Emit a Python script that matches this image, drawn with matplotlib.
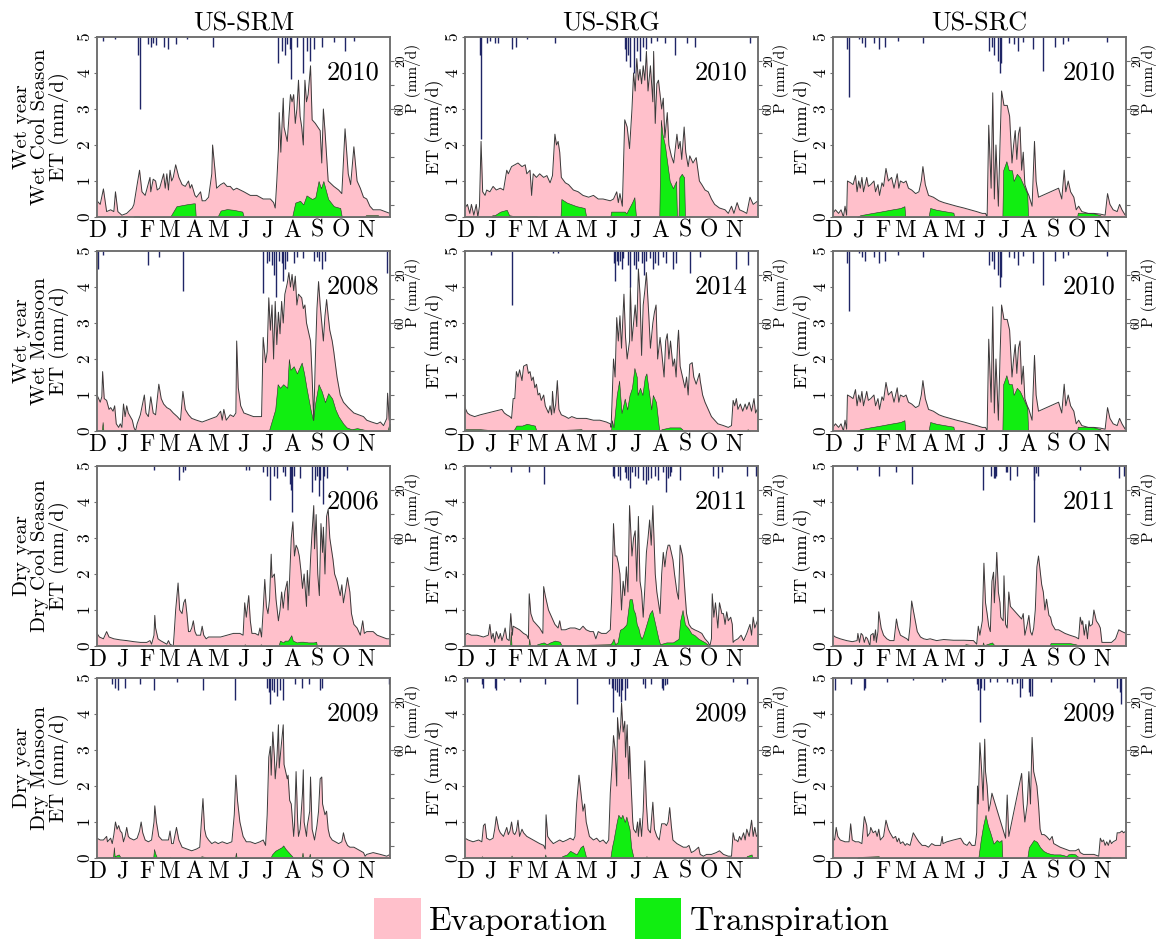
import numpy as np
import matplotlib
matplotlib.use('Agg')
import matplotlib.pyplot as plt
from matplotlib.patches import Patch

plt.rcParams['font.family'] = ['cmr10', 'DejaVu Serif']
plt.rcParams['mathtext.fontset'] = 'cm'
plt.rcParams['axes.formatter.use_mathtext'] = True

# x = days since 1 Dec, values in mm/d
months = ['D', 'J', 'F', 'M', 'A', 'M', 'J', 'J', 'A', 'S', 'O', 'N']
month_start = [0, 31, 62, 90, 121, 151, 182, 212, 243, 274, 304, 335]
sites = ['US-SRM', 'US-SRG', 'US-SRC']
row_labels = ['Wet year\nWet Cool Season', 'Wet year\nWet Monsoon',
              'Dry year\nDry Cool Season', 'Dry year\nDry Monsoon']
years = [['2010', '2010', '2010'], ['2008', '2014', '2010'],
         ['2006', '2011', '2011'], ['2009', '2009', '2009']]

# ---- US-SRM 2010
srm10_et = [(0,.45),(4,.35),(8,.78),(12,.15),(17,.2),(21,.15),(23,.7),(26,.15),(31,.05),(37,.1),(44,.25),(46,.35),(50,.9),(53,1.3),(56,.7),(60,.6),(66,1.1),(67,.7),(70,1.05),(73,1.0),(75,.75),(78,.8),(83,1.2),(85,.8),(87,1.2),(89,.75),(91,1.3),(93,1.0),(95,1.1),(98,1.45),(102,1.1),(106,.9),(110,.85),(114,1.0),(116,.8),(118,.9),(122,.6),(124,.55),(129,.7),(131,.45),(135,.45),(139,.55),(143,1.2),(144,2.0),(147,1.3),(149,.8),(154,.9),(158,.95),(162,.85),(166,.85),(170,.75),(174,.8),(183,.7),(191,.6),(199,.6),(207,.5),(216,.5),(220,.4),(222,.25),(224,1.0),(226,1.9),(227,2.9),(229,1.8),(232,3.3),(233,2.5),(235,2.3),(237,2.1),(241,3.4),(243,3.2),(245,3.4),(247,2.6),(249,3.0),(251,3.8),(253,2.8),(255,2.5),(257,2.0),(259,3.8),(261,3.2),(263,3.4),(266,4.2),(268,2.7),(272,2.6),(278,2.4),(280,1.5),(282,3.0),(284,2.4),(288,1.0),(295,.85),(301,.75),(305,.65),(309,2.45),(313,1.2),(316,.9),(320,1.95),(324,1.0),(328,.8),(332,.55),(336,.5),(340,.3),(344,.2),(353,.2),(359,.15),(365,.1)]
srm10_tr = [(45,0),(47,.03),(52,.03),(53,0),(91,0),(99,.3),(111,.35),(120,.38),(122,.38),(123,0),(150,0),(154,.18),(162,.22),(170,.2),(181,.15),(183,0),(243,0),(247,.4),(253,.45),(257,.35),(261,.6),(268,.5),(272,.55),(276,1.0),(279,.8),(282,1.0),(288,.5),(295,.3),(303,.25),(305,0),(333,0),(335,.05),(350,.05),(352,0)]
srm10_p = [(8,3),(23,2),(51,15),(53,60),(64,6),(67,8),(70,5),(74,7),(83,8),(89,10),(98,6),(112,2),(144,8),(226,22),(230,12),(234,15),(237,6),(241,10),(242,35),(249,8),(257,30),(261,12),(265,20),(270,10),(280,8),(295,4),(309,12),(320,3)]

# ---- US-SRG 2010
srg10_et = [(0,.25),(3,.35),(6,.1),(8,.35),(11,.05),(14,.35),(16,0),(18,.3),(20,2.1),(22,.7),(25,.6),(27,.75),(31,.7),(35,.85),(39,.75),(44,.8),(48,.75),(52,1.3),(54,1.2),(58,1.4),(62,1.45),(66,1.5),(71,1.4),(75,1.45),(77,1.2),(81,1.3),(83,.6),(85,1.2),(89,1.1),(93,1.2),(98,1.1),(102,1.15),(106,.95),(109,1.15),(112,2.3),(114,2.0),(116,2.1),(118,1.8),(120,1.1),(125,.95),(129,.9),(135,.75),(141,.7),(147,.6),(154,.55),(160,.6),(166,.5),(172,.5),(181,.45),(185,.5),(189,.7),(191,.4),(193,.65),(196,.3),(199,2.7),(202,2.5),(205,1.9),(208,3.0),(210,4.0),(212,3.5),(214,4.4),(216,3.8),(218,4.1),(220,3.7),(222,4.2),(224,3.8),(226,4.6),(228,3.5),(231,4.2),(234,3.2),(235,4.6),(237,2.6),(239,3.7),(241,3.8),(243,3.4),(245,3.0),(247,3.3),(249,2.2),(252,2.9),(254,2.0),(257,1.7),(260,1.5),(264,2.3),(266,1.9),(268,2.1),(270,1.6),(273,2.5),(275,1.8),(278,1.4),(280,1.7),(284,1.5),(288,1.65),(292,1.0),(295,.9),(299,.75),(303,.7),(307,.5),(311,.35),(317,.25),(324,.2),(328,.1),(332,.3),(335,.1),(339,.4),(342,.2),(347,.15),(351,.1),(355,.55),(359,.35),(365,.45)]
srg10_tr = [(33,0),(34,.05),(37,.05),(44,.15),(52,.2),(55,.05),(60,.03),(89,.03),(90,0),(119,0),(120,.5),(127,.4),(139,.3),(149,.25),(151,0),(181,0),(182,.15),(199,.15),(201,.1),(208,.4),(211,.55),(213,0),(242,0),(244,2.7),(246,2.3),(249,2.0),(252,1.5),(255,1.0),(259,.8),(263,1.0),(264,0),(266,0),(267,1.1),(270,1.2),(273,1.1),(274,0)]
srg10_p = [(19,15),(20,85),(27,5),(31,3),(37,5),(41,5),(58,10),(64,8),(77,2),(112,5),(199,10),(201,20),(203,15),(205,25),(210,30),(214,12),(218,20),(222,8),(226,10),(232,5),(239,3),(249,5),(261,15),(276,5),(286,8),(355,5)]

# ---- US-SRC 2010
src10_et = [(0,.1),(3,.2),(7,.1),(10,.2),(13,0),(15,.3),(17,.05),(18,1.0),(22,.95),(25,.9),(28,1.15),(30,.7),(32,1.0),(34,.8),(36,1.1),(38,.7),(42,1.1),(44,.85),(47,.9),(51,1.0),(53,.7),(56,.9),(58,.6),(61,.95),(63,.85),(66,1.35),(69,1.0),(73,1.1),(76,.8),(80,1.2),(82,.8),(84,1.0),(88,.95),(91,1.0),(94,.8),(98,.75),(103,.65),(107,.7),(110,1.0),(112,1.4),(115,.9),(119,.6),(125,.55),(132,.45),(138,.4),(146,.35),(154,.3),(163,.25),(171,.2),(179,.15),(186,.1),(190,.1),(192,0),(194,2.55),(197,.8),(199,3.45),(201,.5),(203,2.0),(206,.3),(208,2.0),(210,3.5),(213,3.1),(217,3.1),(220,2.8),(223,1.5),(225,2.0),(227,2.4),(229,1.6),(231,2.3),(233,2.5),(235,1.3),(237,1.8),(239,.9),(242,.7),(244,.6),(248,.3),(251,2.1),(253,1.0),(256,.55),(281,.8),(285,.5),(288,1.3),(290,.7),(293,1.0),(296,.7),(300,.55),(303,.2),(306,.3),(310,.15),(318,.1),(325,.1),(333,.08),(339,.05),(342,.65),(345,.35),(349,.2),(354,.15),(357,.35),(360,.2),(364,.05),(365,.1)]
src10_tr = [(30,0),(34,.05),(46,.1),(59,.15),(71,.2),(84,.25),(89,.3),(90,0),(119,0),(121,.25),(129,.2),(142,.15),(150,.12),(151,0),(211,0),(212,1.3),(216,1.55),(219,1.3),(223,1.3),(225,1.0),(229,1.2),(233,1.1),(237,.9),(242,.65),(243,0),(304,0),(305,.12),(325,.1),(333,.05),(335,0)]
src10_p = [(18,10),(20,50),(32,2),(36,5),(40,8),(51,5),(57,10),(65,8),(81,3),(112,5),(194,12),(198,8),(200,15),(206,20),(208,30),(209,22),(219,5),(226,6),(231,12),(237,4),(249,10),(262,28),(277,8),(286,6),(293,3),(341,4)]

# ---- US-SRM 2008
srm08_et = [(0,1.0),(4,.8),(6,.95),(7,1.65),(9,.9),(12,.85),(15,.6),(17,.65),(20,.55),(22,.7),(24,.2),(27,.1),(29,.2),(31,.1),(33,.75),(35,.4),(37,.7),(39,.5),(44,.3),(46,.1),(48,0),(50,.2),(54,.45),(59,1.0),(61,.5),(64,.4),(67,.95),(70,.5),(73,.45),(77,1.3),(80,.9),(83,.75),(87,.65),(91,.6),(95,.5),(100,.4),(104,.3),(107,1.1),(110,.6),(114,.45),(118,.35),(124,.3),(131,.25),(137,.3),(143,.35),(149,.4),(154,.55),(156,.3),(158,.6),(161,.3),(166,.45),(170,.4),(173,.5),(174,2.5),(176,1.2),(179,.7),(183,.5),(189,.45),(195,.4),(201,.4),(205,.4),(207,2.6),(210,1.9),(212,2.2),(214,3.7),(216,2.8),(218,3.5),(220,2.0),(222,3.6),(224,2.4),(226,3.3),(228,2.7),(230,3.6),(232,3.0),(234,3.8),(237,4.1),(239,4.4),(241,4.0),(243,4.35),(245,3.9),(247,4.3),(249,3.5),(251,3.8),(255,3.7),(257,3.4),(259,3.5),(261,3.0),(266,2.5),(268,1.5),(270,.3),(272,2.0),(274,3.4),(276,4.15),(278,3.5),(280,3.0),(282,2.5),(284,3.2),(286,3.65),(288,3.2),(290,2.8),(293,2.5),(295,2.2),(299,1.5),(303,1.0),(307,.8),(313,.65),(320,.5),(326,.45),(332,.4),(336,.3),(342,.25),(349,.2),(353,.25),(357,.15),(361,.35),(362,1.05),(364,.3),(365,.8)]
srm08_tr = [(6,0),(7,.25),(8,0),(78,0),(79,.03),(80,0),(214,0),(218,.3),(222,.6),(225,1.3),(228,1.2),(232,1.3),(237,1.2),(239,2.0),(241,1.7),(245,1.8),(249,1.6),(253,1.8),(255,1.9),(258,1.6),(261,1.2),(266,.6),(269,.3),(272,.8),(276,1.3),(280,1.1),(284,.8),(288,1.05),(293,.9),(297,.6),(301,.4),(307,.2),(311,.1),(317,.05),(324,.08),(334,.03),(336,0),(362,0),(364,.2),(365,.2)]
srm08_p = [(1,15),(8,3),(64,12),(77,5),(107,33),(207,35),(212,10),(214,8),(218,12),(221,20),(223,38),(227,8),(230,10),(232,25),(234,15),(237,8),(245,10),(249,5),(257,6),(270,8),(274,5),(276,8),(280,15),(284,8),(361,18)]

# ---- US-SRG 2014
srg14_et = [(0,.65),(3,.5),(6,.45),(12,.4),(19,.45),(46,.6),(49,.5),(52,.45),(56,.4),(58,.35),(60,.9),(62,.9),(64,1.65),(66,1.5),(68,1.7),(71,1.4),(73,1.8),(77,1.85),(79,1.6),(81,1.65),(83,1.4),(85,1.5),(87,1.2),(89,1.3),(91,1.0),(93,1.05),(95,.85),(98,1.0),(100,.7),(102,.6),(104,.5),(106,.7),(108,.45),(109,1.1),(111,.5),(113,.75),(115,1.4),(117,.6),(120,.45),(125,.4),(129,.35),(133,.4),(139,.35),(145,.35),(151,.35),(160,.3),(168,.3),(176,.25),(181,.2),(182,.1),(183,.7),(185,2.0),(187,1.5),(189,3.15),(191,2.5),(193,3.2),(195,2.3),(198,3.8),(200,2.6),(202,2.0),(205,2.5),(206,4.0),(208,2.5),(210,3.0),(212,3.5),(214,2.9),(216,4.5),(218,3.8),(220,2.1),(222,3.5),(224,3.9),(226,4.4),(229,3.2),(231,2.3),(234,3.0),(236,3.3),(238,3.5),(240,2.0),(243,2.6),(245,2.2),(248,1.5),(250,2.5),(252,2.7),(254,2.0),(256,2.5),(259,1.8),(261,2.0),(263,1.5),(265,2.5),(266,2.8),(268,1.8),(271,1.5),(274,1.2),(276,1.5),(278,1.0),(280,1.85),(283,1.9),(285,1.5),(288,1.3),(292,1.6),(293,1.4),(296,1.0),(299,.8),(303,.6),(307,.4),(311,.3),(315,.2),(322,.15),(328,.1),(332,.15),(334,.85),(336,.7),(338,.9),(340,.6),(343,.75),(346,.55),(349,.75),(351,.6),(354,.8),(357,.55),(360,.9),(362,.5),(365,.65)]
srg14_tr = [(0,.05),(19,.05),(30,.03),(31,0),(60,0),(64,.15),(71,.15),(77,.2),(87,.15),(89,0),(120,0),(121,.03),(145,.05),(147,0),(182,0),(183,.3),(185,.1),(189,1.0),(192,1.4),(195,.5),(197,.7),(199,.9),(202,.6),(205,1.0),(208,1.2),(211,1.75),(214,1.5),(215,1.0),(218,1.2),(221,1.0),(224,1.5),(226,1.6),(229,1.1),(232,.6),(234,1.0),(236,.9),(238,.8),(242,0),(245,.05),(255,.1),(268,.1),(273,0),(351,0),(352,.05),(355,0)]
srg14_p = [(33,3),(59,45),(110,2),(116,2),(185,10),(187,25),(189,8),(191,12),(193,8),(195,15),(197,6),(203,12),(206,30),(210,12),(213,15),(215,8),(220,10),(223,20),(226,8),(230,6),(234,15),(237,10),(241,12),(247,5),(250,10),(259,15),(263,10),(280,18),(293,5),(338,15),(353,12)]

# ---- US-SRM 2006
srm06_et = [(0,.35),(3,.25),(8,.2),(12,.4),(15,.25),(21,.2),(29,.17),(37,.15),(46,.12),(54,.1),(62,.1),(66,.15),(68,.05),(71,.3),(72,.85),(73,.5),(76,.2),(79,.15),(83,.1),(87,.05),(89,.15),(91,.05),(95,0),(96,.3),(98,1.0),(101,1.75),(103,1.0),(106,.9),(108,1.2),(110,1.3),(112,.9),(114,.4),(116,.4),(118,.5),(120,.7),(122,.4),(124,.3),(129,.3),(131,.55),(133,.3),(136,.2),(139,.25),(145,.25),(154,.25),(162,.3),(170,.35),(178,.35),(182,.3),(184,1.2),(186,.8),(189,1.4),(191,.7),(193,.35),(197,.35),(201,.3),(203,.5),(205,.25),(207,1.0),(209,1.85),(211,1.1),(213,.9),(215,1.3),(217,2.55),(218,1.9),(221,2.0),(223,1.3),(226,.7),(228,1.0),(230,1.5),(232,1.05),(234,1.5),(237,1.8),(238,1.0),(240,1.9),(242,3.0),(244,3.45),(246,2.5),(248,2.8),(250,2.7),(252,2.5),(254,2.1),(256,1.6),(258,2.0),(261,1.1),(262,2.1),(264,1.4),(266,2.4),(268,3.2),(270,3.9),(271,2.7),(273,3.65),(275,2.0),(277,1.4),(279,3.4),(281,2.6),(282,3.3),(284,2.0),(286,3.6),(288,3.8),(290,3.0),(292,2.7),(294,2.4),(296,2.0),(299,1.8),(301,1.6),(303,1.4),(305,1.7),(307,1.2),(310,1.6),(312,1.9),(315,1.5),(317,.9),(320,.6),(324,.5),(326,.4),(328,.3),(331,.7),(333,.35),(336,.4),(344,.4),(349,.3),(355,.25),(361,.2),(365,.2)]
srm06_tr = [(183,0),(184,.05),(186,0),(203,0),(204,.05),(206,0),(226,0),(228,.15),(232,.1),(234,.15),(238,.15),(242,.3),(244,.15),(249,.1),(253,.12),(257,.12),(263,.1),(270,.1),(273,.12),(274,0)]
srm06_p = [(71,3),(102,12),(107,5),(110,3),(185,3),(189,3),(207,5),(212,8),(216,28),(220,8),(224,10),(232,5),(234,8),(240,15),(242,20),(243,38),(245,8),(253,10),(268,22),(272,12),(274,8),(276,25),(278,12),(281,32),(283,8),(286,10),(311,3)]

# ---- US-SRG 2011
srg11_et = [(0,.3),(3,.35),(8,.3),(15,.3),(23,.25),(29,.3),(31,.6),(33,.2),(35,.35),(37,.1),(39,.4),(42,.2),(44,.35),(46,.15),(48,.3),(50,.5),(52,.2),(55,.15),(57,.9),(59,.3),(60,.55),(64,.5),(68,.45),(73,.35),(77,.3),(79,.2),(80,1.45),(82,.9),(85,.7),(89,.6),(93,.5),(97,.35),(98,1.65),(100,1.4),(104,1.0),(108,.8),(112,.6),(116,.5),(118,.7),(120,.45),(125,.45),(131,.5),(137,.5),(143,.45),(147,.55),(151,.45),(156,.4),(160,.4),(163,.2),(166,.4),(170,.35),(176,.35),(181,.45),(183,1.5),(185,3.4),(187,2.5),(189,2.5),(191,2.3),(193,2.0),(195,1.0),(197,1.8),(199,1.4),(201,2.2),(203,1.5),(205,3.9),(208,2.5),(210,3.0),(212,3.2),(214,1.8),(216,3.6),(218,1.8),(220,1.5),(222,.8),(224,1.6),(226,2.6),(228,3.0),(230,3.5),(232,2.8),(234,3.9),(237,2.0),(239,1.5),(241,1.2),(243,.9),(245,2.0),(247,2.6),(249,2.2),(251,2.6),(253,2.8),(255,2.8),(259,2.4),(261,2.0),(264,1.5),(266,1.3),(268,2.8),(271,2.5),(274,1.5),(276,.9),(279,.6),(282,.5),(286,.45),(291,.4),(295,.35),(299,.2),(303,.1),(305,0),(307,.2),(308,1.45),(310,.8),(312,1.2),(315,.5),(317,1.2),(320,.9),(322,.9),(324,.6),(326,.95),(328,.7),(331,.8),(333,.6),(334,.1),(336,.15),(340,.2),(344,.3),(347,.15),(351,.35),(355,.6),(357,.3),(359,.8),(361,.5),(365,.75)]
srg11_tr = [(56,0),(57,.4),(58,0),(79,0),(80,.2),(81,0),(89,0),(90,.05),(98,.1),(102,.05),(106,.1),(112,.15),(118,.12),(120,.03),(143,.03),(181,.05),(183,.1),(185,.2),(187,.05),(190,.1),(193,.45),(197,.5),(201,.6),(205,1.3),(208,1.3),(210,1.0),(212,.9),(214,.6),(216,.5),(218,.3),(220,.2),(222,.3),(226,.6),(230,.9),(233,1.0),(235,.8),(237,.6),(239,.4),(241,.2),(243,.05),(251,.1),(259,.1),(266,.2),(268,.7),(271,1.0),(274,.6),(278,.5),(282,.35),(286,.3),(291,.2),(295,.15),(299,.1),(303,.03),(305,0)]
srg11_p = [(31,2),(57,5),(80,5),(98,15),(184,8),(186,10),(190,8),(193,12),(199,5),(201,10),(203,12),(205,18),(208,5),(212,8),(215,10),(222,12),(226,15),(228,12),(232,10),(237,8),(241,12),(247,5),(250,22),(253,10),(255,8),(257,5),(268,12),(309,8),(315,10),(320,5),(351,8),(363,8)]

# ---- US-SRC 2011
src11_et = [(0,.3),(3,.25),(9,.2),(17,.15),(24,.12),(30,.15),(31,.35),(33,.1),(35,.35),(37,.3),(39,.1),(41,.25),(43,.2),(46,0),(47,.3),(50,.35),(51,.15),(53,.45),(54,.1),(56,.4),(57,.95),(60,.5),(63,.3),(67,.2),(71,.15),(76,.15),(79,.75),(81,.5),(84,.3),(88,.25),(92,.2),(94,.15),(96,.55),(98,1.25),(100,1.0),(105,.4),(109,.25),(113,.2),(117,.18),(121,.2),(129,.15),(138,.18),(150,.16),(163,.16),(175,.15),(179,.05),(181,.55),(183,.3),(186,.7),(188,2.3),(190,1.2),(192,.9),(194,.55),(196,.4),(198,1.8),(200,2.05),(201,1.2),(203,2.0),(204,2.6),(206,1.5),(208,1.2),(209,.8),(212,.7),(213,1.95),(215,.6),(217,.5),(219,1.5),(221,1.1),(225,1.0),(229,.9),(233,.8),(235,.75),(237,.9),(239,.3),(242,.6),(244,.85),(246,.4),(248,.3),(250,.5),(252,1.0),(254,2.2),(256,2.5),(258,2.1),(260,1.7),(262,1.5),(264,1.0),(266,1.3),(269,.85),(271,.8),(273,.6),(277,.45),(281,.45),(285,.4),(289,.35),(295,.3),(302,.25),(306,.2),(308,.8),(310,.6),(311,.7),(313,.3),(315,.6),(317,.2),(319,.7),(320,.55),(323,.6),(325,1.0),(328,.7),(331,.6),(333,.5),(335,.1),(341,.1),(347,.1),(352,.2),(356,.45),(360,.4),(365,.35)]
src11_tr = [(163,0),(165,.05),(175,.02),(186,.02),(187,.1),(188,.02),(198,.1),(200,.05),(202,0),(270,0),(271,.08),(285,.08),(295,.08),(302,.05),(306,.02),(333,.02),(335,0)]
src11_p = [(30,3),(57,8),(79,5),(98,15),(187,20),(197,8),(200,10),(202,10),(203,8),(215,5),(217,5),(221,12),(229,8),(250,12),(251,47),(253,6),(255,8),(308,3),(356,10),(362,8)]

# ---- US-SRM 2009
srm09_et = [(0,.55),(4,.5),(8,.5),(12,.6),(13,.45),(17,.55),(19,.4),(21,.65),(23,1.0),(25,.8),(27,.9),(29,.75),(31,.7),(33,.45),(35,.6),(37,.85),(39,.6),(41,.55),(46,.5),(50,.55),(53,.75),(55,1.0),(57,.7),(60,.5),(64,.45),(68,.5),(71,1.0),(72,1.45),(74,1.0),(77,.6),(81,.5),(85,.5),(89,.5),(91,.75),(93,.4),(95,.4),(99,.85),(102,.5),(106,.3),(112,.25),(118,.2),(124,.25),(128,.3),(130,1.0),(132,1.65),(134,.8),(136,.6),(139,.5),(143,.4),(147,.45),(151,.4),(156,.45),(162,.4),(168,.45),(171,1.2),(173,2.3),(175,1.6),(178,1.0),(182,.6),(186,.45),(191,.45),(197,.4),(203,.45),(207,.5),(210,.35),(212,1.2),(214,2.8),(216,3.1),(217,2.3),(219,3.5),(221,2.8),(222,2.2),(224,2.7),(226,3.7),(227,2.5),(229,3.0),(232,3.7),(233,2.6),(235,2.4),(237,2.2),(238,2.3),(240,1.6),(242,1.5),(243,1.2),(245,.6),(246,.9),(248,2.4),(250,1.0),(251,.6),(253,.8),(256,1.8),(257,2.45),(258,1.0),(261,.6),(262,.9),(265,1.3),(266,2.25),(268,.8),(271,.5),(274,.9),(276,1.3),(278,2.2),(280,2.25),(281,1.5),(284,1.2),(286,1.3),(288,.8),(290,.6),(293,.5),(297,.45),(301,.4),(305,.45),(307,.7),(309,.5),(312,.35),(315,.3),(320,.3),(324,.25),(328,.2),(332,.15),(334,.05),(336,.1),(344,.15),(353,.1),(361,.05),(365,.1)]
srm09_tr = [(20,0),(21,.3),(22,.05),(27,.1),(29,.03),(30,0),(70,0),(71,.25),(73,.1),(75,0),(90,0),(91,.03),(92,0),(129,0),(130,.05),(134,.03),(135,0),(172,0),(173,.15),(174,0),(216,0),(218,.1),(222,.2),(226,.25),(230,.3),(232,.35),(235,.25),(239,.15),(243,.05),(245,0),(255,0),(256,.15),(257,0),(264,0),(265,.12),(266,0)]
srm09_p = [(19,5),(23,8),(26,10),(35,8),(53,5),(71,10),(100,3),(132,10),(172,18),(212,8),(214,12),(216,22),(218,10),(221,12),(224,15),(228,10),(232,18),(247,5),(255,8),(264,5),(278,10),(280,8),(364,5)]

# ---- US-SRG 2009
srg09_et = [(0,.55),(4,.5),(10,.45),(17,.5),(21,.45),(23,.9),(25,.95),(27,.55),(31,.5),(35,.55),(37,.8),(39,1.15),(42,.8),(44,.7),(48,.6),(52,.85),(54,.65),(56,.75),(58,1.0),(60,.7),(62,.65),(64,.75),(66,1.05),(68,.6),(71,.8),(73,.7),(77,.6),(81,.55),(85,.5),(89,.45),(93,.4),(98,.35),(100,.25),(101,1.2),(103,.6),(106,.5),(110,.4),(114,.45),(118,.5),(122,.45),(127,.5),(131,.55),(135,.5),(137,.6),(139,1.5),(142,2.3),(144,1.9),(147,1.3),(149,1.5),(151,1.0),(155,.6),(160,.5),(164,.55),(168,.45),(172,.5),(176,.4),(179,.5),(181,1.8),(183,2.5),(185,3.4),(187,3.0),(189,2.0),(190,3.9),(192,3.3),(194,3.7),(195,4.3),(197,3.5),(199,3.8),(200,2.8),(202,3.7),(204,2.2),(205,3.1),(207,2.0),(209,1.0),(210,.8),(213,.7),(215,1.0),(216,.6),(218,1.1),(220,.6),(222,1.3),(224,2.7),(226,1.5),(228,.8),(231,.7),(234,1.55),(236,.8),(239,.6),(242,.5),(245,.95),(249,.95),(251,.9),(253,1.0),(255,1.4),(257,.9),(259,.5),(264,.4),(268,.35),(272,.3),(276,.3),(279,.35),(282,.15),(286,.2),(291,.3),(293,.1),(297,.05),(301,.1),(307,.1),(313,.15),(317,.2),(322,.1),(328,.05),(332,.05),(334,.7),(336,.5),(338,.5),(340,.45),(342,.6),(344,.5),(347,.7),(349,.5),(351,.8),(354,.6),(357,1.05),(359,.6),(361,.85),(363,.6),(365,.65)]
srg09_tr = [(20,0),(21,.05),(23,0),(57,0),(58,.07),(59,0),(99,0),(100,.1),(101,0),(120,0),(121,.05),(127,.1),(131,.2),(135,.15),(139,.1),(144,.3),(147,.35),(150,.1),(151,0),(181,0),(183,.3),(185,.5),(189,1.0),(191,1.2),(194,1.1),(196,1.2),(199,1.0),(201,1.15),(205,.8),(207,.3),(210,0),(225,0),(226,.05),(228,0),(350,0),(351,.05),(357,.1),(358,0)]
srg09_p = [(3,3),(21,5),(22,8),(37,8),(39,10),(49,2),(68,3),(100,5),(140,22),(180,5),(183,8),(184,28),(187,10),(189,12),(192,15),(194,20),(196,10),(199,18),(202,8),(222,5),(224,8),(232,5),(245,8),(247,10),(249,6),(252,5),(334,3),(351,5)]

# ---- US-SRC 2009
src09_et = [(0,.55),(2,.5),(4,.85),(6,.6),(9,.5),(15,.45),(20,.45),(22,.95),(24,.5),(28,.45),(32,.45),(36,.4),(39,1.15),(42,.9),(43,.6),(46,.7),(47,.85),(50,.7),(53,.75),(55,.6),(57,.8),(59,.5),(63,.6),(66,1.05),(69,.8),(71,.7),(75,.55),(78,.6),(80,.45),(82,.55),(84,.4),(87,.45),(90,.35),(92,.4),(96,.35),(100,.7),(104,.55),(107,.45),(111,.35),(115,.35),(119,.3),(123,.4),(127,.35),(134,.35),(136,.6),(137,.4),(142,.45),(150,.5),(159,.55),(163,.4),(167,.35),(170,.45),(173,.35),(177,.35),(179,.7),(180,2.0),(181,1.5),(183,3.2),(185,2.5),(187,1.6),(189,3.3),(190,2.4),(192,2.0),(194,1.3),(196,1.5),(198,1.8),(215,.55),(217,1.75),(219,.6),(235,2.35),(237,1.5),(239,1.0),(242,1.5),(244,2.4),(246,1.5),(248,3.35),(250,2.4),(252,2.2),(254,2.0),(256,1.5),(258,.8),(260,.65),(263,.65),(266,.6),(270,.5),(273,.6),(275,.4),(279,.35),(283,.3),(289,.25),(295,.2),(302,.2),(306,.25),(308,.15),(312,.1),(318,.1),(325,.1),(331,.05),(333,.55),(335,.45),(337,.5),(339,.35),(341,.45),(343,.35),(345,.5),(347,.4),(349,.45),(353,.5),(354,.7),(357,.7),(360,.75),(362,.7),(365,.75)]
src09_tr = [(30,0),(32,.03),(57,.05),(58,0),(181,0),(184,.5),(187,.9),(190,1.2),(193,.9),(196,.7),(198,.55),(200,.4),(204,.5),(207,.45),(210,.5),(211,0),(242,0),(244,.3),(247,.4),(250,.5),(254,.45),(258,.3),(262,.2),(266,.15),(270,.12),(275,.1),(283,.1),(287,.08),(291,.05),(293,.1),(297,.12),(302,.1),(304,.05),(308,.02),(333,.02),(345,.03),(346,0)]
src09_p = [(3,10),(22,5),(38,10),(40,8),(67,3),(100,2),(136,3),(140,2),(179,5),(181,10),(183,37),(184,8),(188,10),(196,3),(204,3),(217,3),(223,5),(229,4),(233,16),(235,8),(244,12),(246,15),(248,15),(271,3),(325,3),(354,8),(357,12),(359,22)]

grid = [[(srm10_et, srm10_tr, srm10_p), (srg10_et, srg10_tr, srg10_p), (src10_et, src10_tr, src10_p)],
        [(srm08_et, srm08_tr, srm08_p), (srg14_et, srg14_tr, srg14_p), (src10_et, src10_tr, src10_p)],
        [(srm06_et, srm06_tr, srm06_p), (srg11_et, srg11_tr, srg11_p), (src11_et, src11_tr, src11_p)],
        [(srm09_et, srm09_tr, srm09_p), (srg09_et, srg09_tr, srg09_p), (src09_et, src09_tr, src09_p)]]

EVAP = '#ffc0cb'
TRANS = '#11ee11'
RAIN = '#1f2566'
SPINE = '#6e6e6e'

W, H = 1168, 946
fig = plt.figure(figsize=(W / 100, H / 100), dpi=100)

lefts = [97, 465, 833]
tops = [37, 251, 466, 678]
aw, ah = 293, 180

for r in range(4):
    for c in range(3):
        et, tr, p = [np.array(a, dtype=float) for a in grid[r][c]]
        ax = fig.add_axes([lefts[c] / W, 1 - (tops[r] + ah) / H, aw / W, ah / H])
        ax.fill_between(et[:, 0], 0, et[:, 1], color=EVAP, lw=0)
        ax.plot(et[:, 0], et[:, 1], color='#3a3a3a', lw=0.7)
        ax.fill_between(tr[:, 0], 0, tr[:, 1], facecolor=TRANS, edgecolor='#2a2a2a', lw=0.4)
        ax.set_xlim(0, 365)
        ax.set_ylim(0, 5)
        ax.set_yticks([0, 1, 2, 3, 4, 5])
        ax.set_xticks(month_start)
        ax.set_xticklabels(months, fontsize=17)
        ax.tick_params(axis='x', length=0, pad=2)
        ax.tick_params(axis='y', labelrotation=90, labelsize=12.5, length=2, color=SPINE, pad=1)
        for lab in ax.get_yticklabels():
            lab.set_va('center')
        if c == 0:
            ax.set_ylabel(row_labels[r] + '\nET (mm/d)', fontsize=15, linespacing=1.0)
            ax.yaxis.set_label_coords(-0.095, 0.5)
        else:
            ax.set_ylabel('ET (mm/d)', fontsize=13)
            ax.yaxis.set_label_coords(-0.075, 0.5)
        if r == 0:
            ax.set_title(sites[c], fontsize=19, pad=5)

        ax2 = ax.twinx()
        ax2.vlines(p[:, 0], 0, p[:, 1], color=RAIN, lw=1.0)
        ax2.set_ylim(150, 0)
        ax2.set_yticks([20, 40, 60, 80, 100, 120, 140])
        ax2.set_yticklabels(['20', '', '60', '', '', '', ''])
        ax2.tick_params(axis='y', labelrotation=90, labelsize=9, length=3, color=SPINE, pad=0.5)
        for lab in ax2.get_yticklabels():
            lab.set_va('center')
        ax2.text(1.0 + 23 / aw, 0.77, 'P (mm/d)', transform=ax2.transAxes, rotation=90,
                 ha='center', va='center', fontsize=11)
        ax2.text(0.965, 0.80, years[r][c], transform=ax2.transAxes, ha='right', va='center',
                 fontsize=19)
        for a in (ax, ax2):
            for s in a.spines.values():
                s.set_color(SPINE)
                s.set_linewidth(1.1)

handles = [Patch(facecolor=EVAP), Patch(facecolor=TRANS)]
fig.legend(handles, ['Evaporation', 'Transpiration'], loc='center', bbox_to_anchor=(0.541, 0.029),
           ncol=2, frameon=False, fontsize=24, handlelength=1.4, handleheight=1.5,
           handletextpad=0.25, columnspacing=0.8)

fig.savefig('out.png', dpi=100)
